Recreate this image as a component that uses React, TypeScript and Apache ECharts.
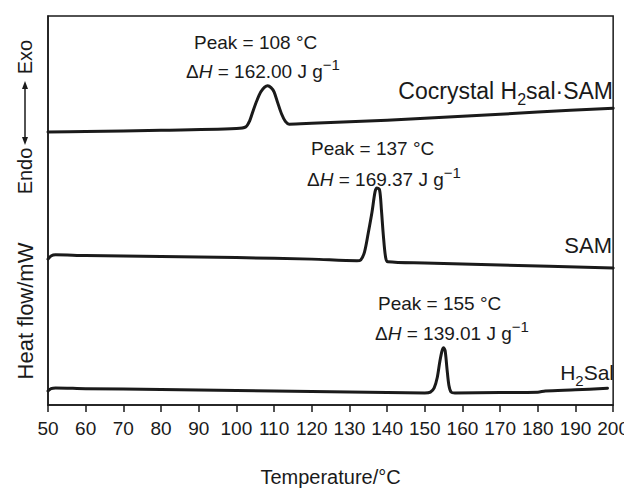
import React, { useEffect, useRef } from 'react';
import * as echarts from 'echarts';

const FONT = '"Liberation Sans", Arial, Helvetica, sans-serif';

// Temperature axis (°C)
const tempMin = 50;
const tempMax = 200;
const tempStep = 10;

// Cocrystal H2sal·SAM trace (arbitrary heat-flow units, stacked offset)
const cocrystalTemp = [50, 60, 80, 100, 102.5, 103.5, 104.5, 105.5, 106.5, 107.5, 108.3, 109.2, 110, 111, 112, 113, 114, 120, 140, 160, 180, 200];
const cocrystalHeat = [70.2, 70.3, 70.6, 71.1, 71.5, 73.0, 75.8, 78.4, 80.5, 81.7, 82.1, 81.6, 80.5, 77.6, 74.8, 72.9, 72.2, 72.4, 73.2, 74.2, 75.3, 76.3];

// SAM trace
const samTemp = [50, 50.8, 52, 60, 80, 100, 120, 132, 133, 134, 135, 136, 136.8, 137.3, 138, 138.5, 139, 139.6, 140.2, 150, 170, 200];
const samHeat = [37.5, 38.3, 38.6, 38.4, 38.2, 37.9, 37.5, 37.1, 37.3, 39.3, 44.2, 49.6, 54.8, 55.8, 55.3, 50.1, 43.7, 38.0, 36.8, 36.5, 36.0, 35.2];

// H2Sal trace
const h2salTemp = [50, 50.8, 52, 60, 80, 100, 120, 140, 150, 151.5, 152.5, 153.3, 154, 154.6, 155, 155.4, 155.9, 156.4, 157, 158, 170, 180, 182, 190, 198.5];
const h2salHeat = [3.6, 4.2, 4.4, 4.2, 4.0, 3.7, 3.5, 3.2, 3.1, 3.3, 4.4, 7.0, 11.2, 14.0, 14.7, 14.0, 9.3, 5.1, 3.3, 3.1, 3.2, 3.3, 3.6, 3.9, 4.3];

const pair = (t: number[], h: number[]) => t.map((v, i) => [v, h[i]]);

export default function App() {
  const ref = useRef<HTMLDivElement>(null);
  useEffect(() => {
    if (!ref.current) return;
    const chart = echarts.init(ref.current, undefined, { renderer: 'svg' });
    const ink = '#1a1a1a';
    const lineStyle = { color: ink, width: 3, join: 'round', cap: 'round' } as any;
    const mkRich = (base: number) => ({
      it: { fontStyle: 'italic', fontSize: base, fontFamily: FONT, fill: ink },
      sup: { fontSize: Math.round(base * 0.8), fontFamily: FONT, verticalAlign: 'top', fill: ink },
      sub: { fontSize: Math.round(base * 0.7), fontFamily: FONT, verticalAlign: 'bottom', fill: ink },
    } as any);
    const txt = (text: string, x: number, y: number, align: string, size = 19) => ({
      type: 'text',
      style: {
        text, x, y, align, verticalAlign: 'middle',
        fontSize: size, fontFamily: FONT, fill: ink, lineHeight: size + 10, rich: mkRich(size),
      },
    });
    const vtxt = (text: string, x: number, y: number, size: number) => ({
      type: 'text',
      x, y, rotation: Math.PI / 2,
      style: { text, x: 0, y: 0, align: 'center', verticalAlign: 'middle', fontSize: size, fontFamily: FONT, fill: ink },
    });
    chart.setOption({
      animation: false,
      backgroundColor: '#ffffff',
      grid: { left: 48, right: 15, top: 16, bottom: 91, show: true, borderColor: ink, borderWidth: 1.5, backgroundColor: 'transparent' },
      xAxis: {
        type: 'value', min: tempMin, max: tempMax, interval: tempStep,
        name: 'Temperature/°C', nameLocation: 'middle', nameGap: 62,
        nameTextStyle: { fontSize: 20, fontFamily: FONT, color: ink },
        axisLine: { show: true, lineStyle: { color: ink, width: 1.5 } },
        axisTick: { show: true, inside: false, length: 7, lineStyle: { color: ink, width: 1.5 } },
        axisLabel: { fontSize: 19, fontFamily: FONT, color: ink, margin: 14 },
        splitLine: { show: false },
      },
      yAxis: {
        type: 'value', min: 0, max: 100,
        axisLine: { show: true, onZero: false, lineStyle: { color: ink, width: 1.5 } },
        axisTick: { show: false }, axisLabel: { show: false }, splitLine: { show: false },
      },
      series: [
        { name: 'Cocrystal H2sal·SAM', type: 'line', data: pair(cocrystalTemp, cocrystalHeat), showSymbol: false, smooth: 0.3, lineStyle },
        { name: 'SAM', type: 'line', data: pair(samTemp, samHeat), showSymbol: false, smooth: 0.3, lineStyle },
        { name: 'H2Sal', type: 'line', data: pair(h2salTemp, h2salHeat), showSymbol: false, smooth: 0.3, lineStyle },
      ],
      graphic: [
        txt('Peak = 108 °C', 194, 42, 'left'),
        txt('Δ{it|H} = 162.00 J g{sup|−1}', 186, 71, 'left'),
        txt('Cocrystal H{sub|2}sal·SAM', 613, 91, 'right', 23),
        txt('Peak = 137 °C', 311, 148, 'left'),
        txt('Δ{it|H} = 169.37 J g{sup|−1}', 307, 179, 'left'),
        txt('SAM', 612, 245, 'right', 22),
        txt('Peak = 155 °C', 378, 303, 'left'),
        txt('Δ{it|H} = 139.01 J g{sup|−1}', 375, 333, 'left'),
        txt('H{sub|2}Sal', 614, 372, 'right', 21),
        vtxt('Heat flow/mW', 25, 311, 22),
        vtxt('Endo', 25, 171, 20),
        vtxt('Exo', 25, 57, 20),
        { type: 'line', shape: { x1: 25, y1: 86, x2: 25, y2: 140 }, style: { stroke: ink, lineWidth: 1.5 } },
        { type: 'polygon', shape: { points: [[25, 81], [22, 89], [28, 89]] }, style: { fill: ink } },
        { type: 'polygon', shape: { points: [[25, 145], [22, 137], [28, 137]] }, style: { fill: ink } },
      ],
    } as any);
    return () => chart.dispose();
  }, []);
  return <div ref={ref} style={{ width: 632, height: 496, margin: -8 }} />;
}
